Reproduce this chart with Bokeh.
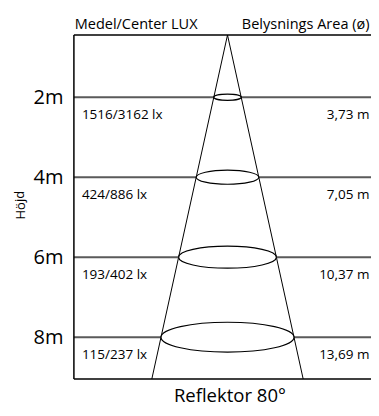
from bokeh.plotting import figure
from bokeh.models import Range1d, ColumnDataSource
from bokeh.core.properties import value
from bokeh.embed import file_html
from bokeh.resources import INLINE

# --- data ---
heights = [2, 4, 6, 8]
height_labels = ["2m", "4m", "6m", "8m"]
lux_labels = ["1516/3162 lx", "424/886 lx", "193/402 lx", "115/237 lx"]
diam_labels = ["3,73 m", "7,05 m", "10,37 m", "13,69 m"]
title_left = "Medel/Center LUX"
title_right = "Belysnings Area (ø)"
axis_title = "Höjd"
caption = "Reflektor 80°"

# --- schematic layout constants (drawing units, 40 px per unit) ---
TOP = 0.445       # top rule / lamp position
BOTTOM = 9.045    # bottom rule
LEFT = -3.84      # left rule
RIGHT = 4.2
SPREAD = 0.22     # cone half-width per unit of depth
ELL_RATIO = 0.225 # ellipse height / width
FONT = "Open Sans"

p = figure(width=371, height=408, output_backend="svg", toolbar_location=None,
           x_range=Range1d(-5.675, 3.6), y_range=Range1d(9.7825, -0.4175),
           x_axis_type=None, y_axis_type=None, min_border=0,
           outline_line_color=None)
p.xgrid.visible = False
p.ygrid.visible = False

src = ColumnDataSource(dict(
    y=heights,
    lbl=height_labels,
    lux=lux_labels,
    diam=diam_labels,
    w=[2 * SPREAD * (h - TOP) for h in heights],
    hgt=[2 * SPREAD * (h - TOP) * ELL_RATIO for h in heights],
    ty=[h + 0.41 for h in heights],
    ly=[h - 0.02 for h in heights],
))
# horizontal height lines
p.segment(x0=LEFT, y0="y", x1=RIGHT, y1="y", source=src, line_color="#5a5a5a", line_width=2)

# frame rules
p.segment(x0=[LEFT, LEFT], y0=[TOP, BOTTOM], x1=[RIGHT, RIGHT], y1=[TOP, BOTTOM],
          line_color="black", line_width=1.5)
p.segment(x0=[LEFT], y0=[TOP], x1=[LEFT], y1=[BOTTOM], line_color="black", line_width=1.5)

# cone
half = SPREAD * (BOTTOM - TOP)
p.segment(x0=[0, 0], y0=[TOP, TOP], x1=[-half, half], y1=[BOTTOM, BOTTOM],
          line_color="black", line_width=1)

# ellipses
p.ellipse(x=0, y="y", width="w", height="hgt", source=src,
          fill_color="white", line_color="black", line_width=1.2)

# labels
p.text(x=-4.1, y="ly", text="lbl", source=src, text_font=value(FONT),
       text_font_size="20px", text_align="right", text_baseline="alphabetic", text_color="black")
p.text(x=-3.64, y="ty", text="lux", source=src, text_font=value(FONT),
       text_font_size="13.5px", text_align="left", text_baseline="alphabetic", text_color="black")
p.text(x=3.55, y="ty", text="diam", source=src, text_font=value(FONT),
       text_font_size="13.5px", text_align="right", text_baseline="alphabetic", text_color="black")

p.text(x=[LEFT + 0.02], y=[0.145], text=[title_left], text_font=value(FONT),
       text_font_size="14.5px", text_align="left", text_baseline="alphabetic", text_color="black")
p.text(x=[3.55], y=[0.145], text=[title_right], text_font=value(FONT),
       text_font_size="14.5px", text_align="right", text_baseline="alphabetic", text_color="black")
p.text(x=[-5.2], y=[4.7], text=[axis_title], angle=1.5708, text_font=value(FONT),
       text_font_size="13px", text_align="center", text_baseline="middle", text_color="black")
p.text(x=[0.06], y=[9.745], text=[caption], text_font=value(FONT),
       text_font_size="18.5px", text_align="center", text_baseline="bottom", text_color="black")

open("out.html", "w").write(file_html(p, INLINE))
